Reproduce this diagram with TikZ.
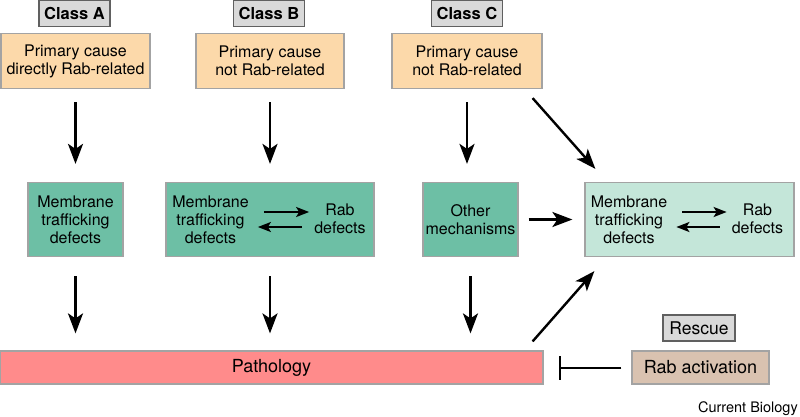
\documentclass[tikz,border=0pt]{standalone}
\usepackage{fontspec}
\setmainfont{TeX Gyre Heros}
\usetikzlibrary{arrows.meta}
\usetikzlibrary{calc,positioning}
\definecolor{peach}{HTML}{FCD9AA}
\definecolor{teal}{HTML}{6DBFA5}
\definecolor{paleteal}{HTML}{C4E6D9}
\definecolor{salmon}{HTML}{FF8B8B}
\definecolor{taupe}{HTML}{D9C2B0}
\definecolor{classgray}{HTML}{D9D9D9}
\definecolor{boxline}{HTML}{A3A3A3}
\tikzset{
  box/.style={draw=boxline,line width=1.2pt,inner sep=0pt,align=center,font=\fontsize{16}{18}\selectfont},
  classbox/.style={box,fill=classgray,draw=gray!75!black,minimum width=71pt,minimum height=26pt,font=\bfseries\fontsize{16.5}{18}\selectfont},
  causebox/.style={box,fill=peach,minimum height=55pt},
  defectbox/.style={box,fill=teal,minimum height=74pt},
  txt/.style={inner sep=0pt,align=center,font=\fontsize{16}{18}\selectfont},
  big/.style={-{Stealth[length=20pt,width=15pt,inset=5pt]},line width=2.4pt},
  exch/.style={-{Stealth[length=13pt,width=10pt,inset=3pt]},line width=2pt},
}
\begin{document}
\begin{tikzpicture}[x=1pt,y=-1pt]
\useasboundingbox (0,0) rectangle (800,416);
% Classes
\node[classbox] (clsA) at (74.5,13.5) {Class A};
\node[classbox] (clsB) at (269,13.5) {Class B};
\node[classbox] (clsC) at (467,13.5) {Class C};
\node[causebox,minimum width=149pt] (causeA) at (75.5,61) {Primary cause\\directly Rab-related};
\node[causebox,minimum width=148pt] (causeB) at (270,61) {Primary cause\\not Rab-related};
\node[causebox,minimum width=150pt] (causeC) at (467,61) {Primary cause\\not Rab-related};
% Defects
\node[defectbox,minimum width=95pt] (defA) at (75.5,219.5) {Membrane\\trafficking\\defects};
\node[defectbox,minimum width=208pt] (defB) at (270,219.5) {};
\node[txt] (mtdB) at (210.5,220) {Membrane\\trafficking\\defects};
\node[txt] (rabB) at (340,219) {Rab\\defects};
\node[defectbox,minimum width=95pt] (other) at (470.5,219.5) {Other\\mechanisms};
\node[defectbox,fill=paleteal,minimum width=209pt] (defC) at (689.5,219.5) {};
\node[txt] (mtdC) at (629,220) {Membrane\\trafficking\\defects};
\node[txt] (rabC) at (757.5,219) {Rab\\defects};
% Pathology and rescue
\node[box,fill=salmon,minimum width=543pt,minimum height=33pt,font=\fontsize{18}{20}\selectfont] (patho) at (271.5,367.5) {Pathology};
\node[box,fill=taupe,minimum width=137pt,minimum height=33pt,font=\fontsize{18}{20}\selectfont] (rabact) at (700.5,367.5) {Rab activation};
\node[box,fill=classgray,draw=gray!75!black,minimum width=72pt,minimum height=26pt,font=\fontsize{17.5}{20}\selectfont] (rescue) at (699,328) {Rescue};
\node[anchor=base east,inner sep=0pt,font=\fontsize{14.5}{16}\selectfont] (credit) at (798,412) {Current Biology};
% Flèches
\draw[big,shorten <=13pt,shorten >=18pt] (causeA) -- (causeA |- defA.north);
\draw[big,shorten <=13pt,shorten >=18pt] (causeB) -- (causeB |- defB.north);
\draw[big,shorten <=13pt,shorten >=18pt] (causeC) -- (causeC |- other.north);
\draw[big] ($(causeC.south east)+(-10,9)$) -- ($(defC.north west)+(11,-13)$);
\draw[big,shorten <=19pt,shorten >=17pt] (defA.south) -- (defA.south |- patho.north);
\draw[big,shorten <=19pt,shorten >=17pt] (defB.south) -- (defB.south |- patho.north);
\draw[big,shorten <=19pt,shorten >=17pt] (other.south) -- (other.south |- patho.north);
\draw[big,shorten <=10pt,shorten >=12pt] (other.east) -- (defC.west);
\draw[big] ($(patho.north east)+(-11,-9)$) -- ($(defC.south west)+(10,14)$);
\draw[exch] ($(mtdB.east)+(15,-8)$) -- ($(rabB.west)+(-5,-7)$);
\draw[exch] ($(rabB.west)+(-12,8)$) -- ($(mtdB.east)+(9,7)$);
\draw[exch] ($(mtdC.east)+(15,-8)$) -- ($(rabC.west)+(-5,-7)$);
\draw[exch] ($(rabC.west)+(-12,8)$) -- ($(mtdC.east)+(9,7)$);
\draw[-{Bar[width=24pt]},line width=2pt,shorten <=10pt,shorten >=15pt] (rabact.west) -- (patho.east);
\end{tikzpicture}
\end{document}
